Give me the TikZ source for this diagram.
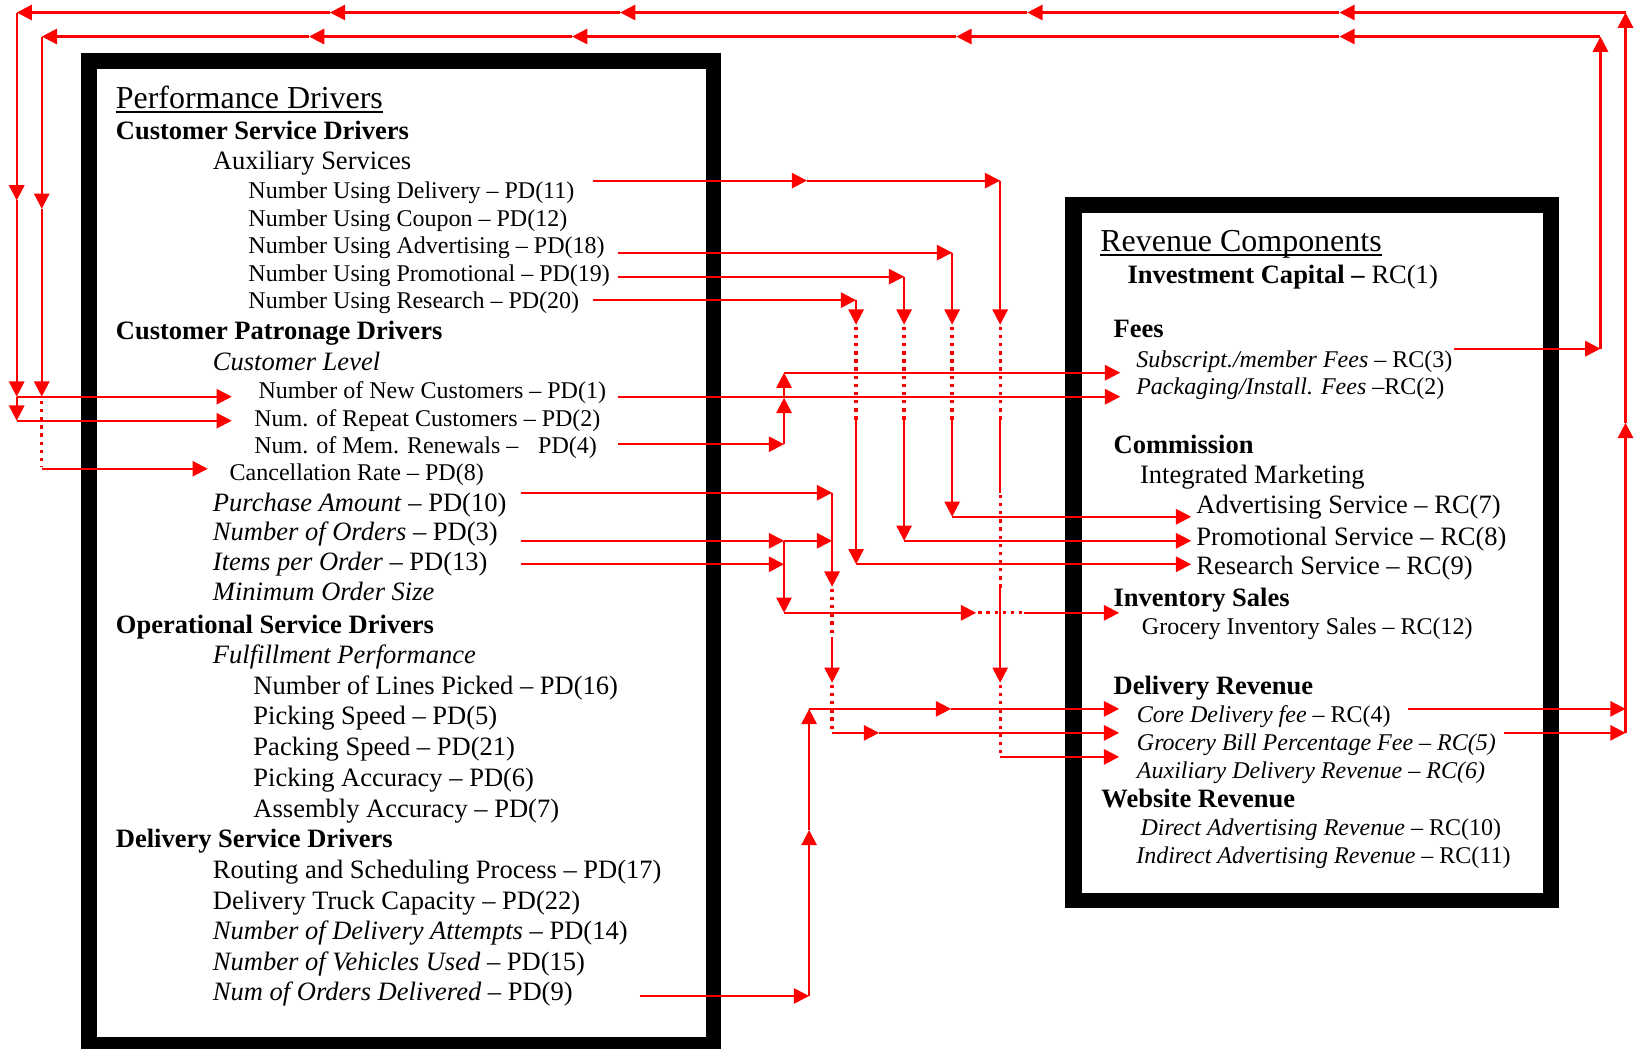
\documentclass[tikz,border=0pt]{standalone}
\usepackage{fontspec}
\setmainfont{Liberation Serif}
\usetikzlibrary{arrows.meta}
\begin{document}
\begin{tikzpicture}[x=0.5pt,y=-0.5pt,
  lbl/.style={anchor=base west,inner sep=0pt,outer sep=0pt},
  txs/.style={lbl,font=\fontsize{11.5}{13}\selectfont},
  txm/.style={lbl,font=\fontsize{12.7}{14}\selectfont},
  txb/.style={lbl,font=\fontsize{12.7}{14}\selectfont\bfseries},
  txl/.style={lbl,font=\fontsize{15.3}{17}\selectfont},
  link/.style={red,line width=1pt},
  arr/.style={link,-{Triangle[length=7.3pt,width=7.3pt]}},
  hop/.style={red,line width=1.6pt,dash pattern=on 1.6pt off 2.3pt},
  uline/.style={line width=0.7pt}]
\useasboundingbox (0,0) rectangle (1568,1004);
\fill[white] (0,0) rectangle (1568,1004);

% frames
\fill[black] (78,51) rectangle (691,1012);
\fill[white] (93,66) rectangle (676,993);
\fill[black] (1020,189) rectangle (1493,870);
\fill[white] (1036,204) rectangle (1478,855);

% ---- performance drivers ----
\node[txl] (pdh) at (111,103.5) {Performance Drivers};
\draw[uline] ([yshift=-1.8pt]pdh.base west) -- ([yshift=-1.8pt]pdh.base east);
\node[txb] (csd) at (111,134) {Customer Service Drivers};
\node[txm] (aux) at (204,162.5) {Auxiliary Services};
\node[txs] (pd11) at (238,189.8) {Number Using Delivery -- PD(11)};
\node[txs] (pd12) at (238,216.5) {Number Using Coupon -- PD(12)};
\node[txs] (pd18) at (238,243.2) {Number Using Advertising -- PD(18)};
\node[txs] (pd19) at (238,269.3) {Number Using Promotional -- PD(19)};
\node[txs] (pd20) at (238,295.8) {Number Using Research -- PD(20)};
\node[txb] (cpd) at (111,325.5) {Customer Patronage Drivers};
\node[txm] (clv) at (204,354.9) {\itshape Customer Level};
\node[txs] (pd1) at (247.7,382) {Number of New Customers -- PD(1)};
\node[txs] (pd2) at (243.6,408.5) {Num. of Repeat Customers -- PD(2)};
\node[txs] (pd4a) at (243.6,434.1) {Num. of Mem. Renewals --};
\node[txs] (pd4) at (515.5,434.1) {PD(4)};
\node[txs] (pd8) at (220,460.3) {Cancellation Rate -- PD(8)};
\node[txm] (pd10) at (204,489.5) {\textit{Purchase Amount} -- PD(10)};
\node[txm] (pd3) at (204,517.7) {\textit{Number of Orders} -- PD(3)};
\node[txm] (pd13) at (204,546.5) {\textit{Items per Order} -- PD(13)};
\node[txm] (mos) at (204,575.2) {\itshape Minimum Order Size};
\node[txb] (osd) at (111,607.1) {Operational Service Drivers};
\node[txm] (ffp) at (204,635.9) {\itshape Fulfillment Performance};
\node[txm] (pd16) at (242.8,665.3) {Number of Lines Picked -- PD(16)};
\node[txm] (pd5) at (242.8,694) {Picking Speed -- PD(5)};
\node[txm] (pd21) at (242.8,723.5) {Packing Speed -- PD(21)};
\node[txm] (pd6) at (242.8,753.4) {Picking Accuracy -- PD(6)};
\node[txm] (pd7) at (242.8,782.8) {Assembly Accuracy -- PD(7)};
\node[txb] (dsd) at (111,812.1) {Delivery Service Drivers};
\node[txm] (pd17) at (204,841.8) {Routing and Scheduling Process -- PD(17)};
\node[txm] (pd22) at (204,871.5) {Delivery Truck Capacity -- PD(22)};
\node[txm] (pd14) at (204,900.2) {\textit{Number of Delivery Attempts} -- PD(14)};
\node[txm] (pd15) at (204,929.5) {\textit{Number of Vehicles Used} -- PD(15)};
\node[txm] (pd9) at (204,958.4) {\textit{Num of Orders Delivered} -- PD(9)};

% ---- revenue components ----
\node[txl] (rch) at (1054,240.5) {Revenue Components};
\draw[uline] ([yshift=-1.8pt]rch.base west) -- ([yshift=-1.8pt]rch.base east);
\node[txm] (rc1) at (1080,271.9) {\textbf{Investment Capital --} RC(1)};
\node[txb] (fees) at (1066.7,323.5) {Fees};
\node[txs] (rc3) at (1088.4,351.7) {\textit{Subscript./member Fees} -- RC(3)};
\node[txs] (rc2) at (1088.4,377.9) {\textit{Packaging/Install. Fees} --RC(2)};
\node[txb] (comm) at (1066.7,434.1) {Commission};
\node[txm] (imk) at (1092,462.8) {Integrated Marketing};
\node[txm] (rc7) at (1146,492.2) {Advertising Service -- RC(7)};
\node[txm] (rc8) at (1146,522.5) {Promotional Service -- RC(8)};
\node[txm] (rc9) at (1146,550.3) {Research Service -- RC(9)};
\node[txb] (invs) at (1066.7,581) {Inventory Sales};
\node[txs] (rc12) at (1093.8,607.8) {Grocery Inventory Sales -- RC(12)};
\node[txb] (delr) at (1066.7,665.3) {Delivery Revenue};
\node[txs] (rc4) at (1089,692.4) {\textit{Core Delivery fee} -- RC(4)};
\node[txs] (rc5) at (1089,718.9) {\textit{Grocery Bill Percentage Fee -- RC(5)}};
\node[txs] (rc6) at (1089,745.4) {\textit{Auxiliary Delivery Revenue -- RC(6)}};
\node[txb] (webr) at (1055,773.8) {Website Revenue};
\node[txs] (rc10) at (1092.5,800.3) {\textit{Direct Advertising Revenue} -- RC(10)};
\node[txs] (rc11) at (1088.4,827.5) {\textit{Indirect Advertising Revenue} -- RC(11)};

% ---- connector end points ----
\coordinate (s11) at (568,173);
\coordinate (s18) at (592,242);
\coordinate (s19) at (592,265);
\coordinate (s20) at (568,287.5);
\coordinate (s1) at (592,380);
\coordinate (s4) at (592,425.5);
\coordinate (s10) at (499,472);
\coordinate (s3) at (499,518);
\coordinate (s13) at (499,540.5);
\coordinate (s9) at (613,954);
\coordinate (t1) at (222,380);
\coordinate (t2) at (222,403);
\coordinate (t8) at (199,449);
\coordinate (r3) at (1393,334);
\coordinate (r4) at (1349,679);
\coordinate (r5) at (1441,702);
\coordinate (u3) at (1073,357);
\coordinate (u2) at (1073,380);
\coordinate (u7) at (1141,495);
\coordinate (u8) at (1141,518);
\coordinate (u9) at (1141,540.5);
\coordinate (u12) at (1072,587);
\coordinate (u4) at (1072,679);
\coordinate (u5) at (1072,702);
\coordinate (u6) at (1072,725);

% auxiliary services -> commission / delivery
\draw[arr] (s11) -- (773,173);
\draw[arr] (773,173) -- (958,173);
\draw[arr] (958,173) -- (958,311);
\draw[hop] (958,313) -- (958,402);
\draw[link] (958,402) -- (958,472);
\draw[hop] (958,474) -- (958,563);
\draw[arr] (958,563) -- (958,654);
\draw[hop] (958,656) -- (958,725);
\draw[arr] (958,725) -- (u6);

\draw[arr] (s18) -- (912,242);
\draw[arr] (912,242) -- (912,311);
\draw[hop] (912,313) -- (912,402);
\draw[arr] (912,402) -- (912,495);
\draw[arr] (912,495) -- (u7);

\draw[arr] (s19) -- (866,265);
\draw[arr] (866,265) -- (866,311);
\draw[hop] (866,313) -- (866,402);
\draw[arr] (866,402) -- (866,518);
\draw[arr] (866,518) -- (u8);

\draw[arr] (s20) -- (820,287.5);
\draw[arr] (820,287.5) -- (820,311);
\draw[hop] (820,313) -- (820,402);
\draw[arr] (820,402) -- (820,540.5);
\draw[arr] (820,540.5) -- (u9);

% customer level -> fees
\draw[arr] (s1) -- (u2);
\draw[arr] (s4) -- (751,425.5);
\draw[arr] (751,425.5) -- (751,381);
\draw[arr] (751,381) -- (751,357);
\draw[arr] (751,357) -- (u3);

% purchase amount / orders / items
\draw[arr] (s10) -- (797,472);
\draw[arr] (797,472) -- (797,562);
\draw[hop] (797,564) -- (797,610);
\draw[arr] (797,610) -- (797,654);
\draw[hop] (797,656) -- (797,702);
\draw[arr] (797,702) -- (842,702);
\draw[arr] (842,702) -- (u5);

\draw[arr] (s3) -- (751,518);
\draw[arr] (751,518) -- (797,518);
\draw[arr] (s13) -- (751,540.5);
\draw[arr] (751,518) -- (751,587);
\draw[arr] (751,587) -- (935,587);
\draw[hop] (937,587) -- (981,587);
\draw[arr] (981,587) -- (u12);

% orders delivered -> core delivery fee
\draw[arr] (s9) -- (775,954);
\draw[arr] (775,954) -- (775,795);
\draw[arr] (775,795) -- (775,679);
\draw[arr] (775,679) -- (911,679);
\draw[arr] (911,679) -- (u4);

% feedback: subscription fees -> new customers / cancellation
\draw[arr] (r3) -- (1533,334);
\draw[arr] (1533,334) -- (1533,35);
\draw[arr] (1533,35) -- (1283,35);
\draw[arr] (1283,35) -- (916,35);
\draw[arr] (916,35) -- (548,35);
\draw[arr] (548,35) -- (296,35);
\draw[arr] (296,35) -- (40,35);
\draw[arr] (40,35) -- (40,200);
\draw[arr] (40,200) -- (40,380);
\draw[hop] (40,384) -- (40,447);
\draw[arr] (40,449) -- (t8);

% feedback: delivery fees -> new / repeat customers
\draw[arr] (r4) -- (1557,679);
\draw[arr] (r5) -- (1557,702);
\draw[arr] (1557,702) -- (1557,405);
\draw[arr] (1557,405) -- (1557,12);
\draw[arr] (1557,12) -- (1283,12);
\draw[arr] (1283,12) -- (984,12);
\draw[arr] (984,12) -- (594,12);
\draw[arr] (594,12) -- (316,12);
\draw[arr] (316,12) -- (16,12);
\draw[arr] (16,12) -- (16,192);
\draw[arr] (16,192) -- (16,380);
\draw[arr] (16,380) -- (16,403);
\draw[arr] (16,380) -- (t1);
\draw[arr] (16,403) -- (t2);
\end{tikzpicture}
\end{document}
